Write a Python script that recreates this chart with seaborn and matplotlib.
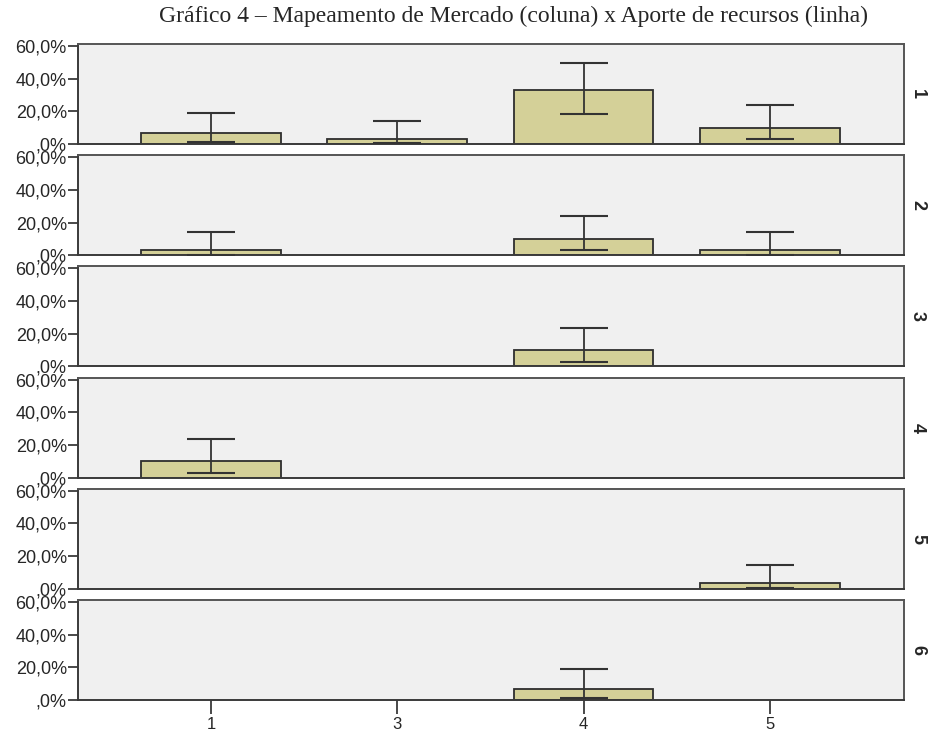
import matplotlib
matplotlib.use("Agg")
import matplotlib.pyplot as plt
import seaborn as sns
import pandas as pd

# Market mapping categories (columns) and funding categories (panel rows)
market = ["1", "3", "4", "5"]
funding = ["1", "2", "3", "4", "5", "6"]

# One entry per non-empty cell: funding row, market column, percentage and 95% interval
cell_row = ["1", "1", "1", "1", "2", "2", "2", "3", "4", "5", "6"]
cell_col = ["1", "3", "4", "5", "1", "4", "5", "4", "1", "5", "4"]
cell_pct = [6.7, 3.3, 33.3, 10.0, 3.3, 10.0, 3.3, 10.0, 10.0, 3.3, 6.7]
ci_low = [1.3, 0.4, 18.2, 2.9, 0.4, 2.9, 0.4, 2.9, 2.9, 0.4, 1.3]
ci_high = [19.2, 14.3, 49.8, 23.7, 14.3, 23.7, 14.3, 23.7, 23.7, 14.3, 19.2]

y_ticks = [0, 20, 40, 60]
y_tick_labels = [",0%", "20,0%", "40,0%", "60,0%"]

df = pd.DataFrame({"row": cell_row, "col": cell_col, "pct": cell_pct,
                   "lo": ci_low, "hi": ci_high})

sns.set_style("white")
plt.rcParams["font.family"] = ["Liberation Sans", "DejaVu Sans"]

bar_color = "#D4D098"
frame_color = "#3a3a3a"

fig, axes = plt.subplots(len(funding), 1, figsize=(9.35, 7.32), dpi=100, sharex=True)
fig.subplots_adjust(left=0.0834, right=0.9668, top=0.9399, bottom=0.0437, hspace=0.112)

for ax, r in zip(axes, funding):
    sub = df[df["row"] == r]
    ax.set_facecolor("#F0F0F0")
    sns.barplot(data=sub, x="col", y="pct", order=market, ax=ax,
                color=bar_color, saturation=1, width=0.75,
                edgecolor="#2e2e2e", linewidth=1.3, errorbar=None)
    pos = [market.index(c) for c in sub["col"]]
    ax.errorbar(pos, sub["pct"],
                yerr=[sub["pct"] - sub["lo"], sub["hi"] - sub["pct"]],
                fmt="none", ecolor="#333333", elinewidth=1.3,
                capsize=17, capthick=1.5, zorder=5)
    ax.set_ylim(0, 61.2)
    ax.set_xlim(-0.714, 3.72)
    ax.set_yticks(y_ticks)
    ax.set_yticklabels(y_tick_labels, fontsize=13)
    ax.set_xlabel("")
    ax.set_ylabel("")
    for s in ax.spines.values():
        s.set_visible(True)
        s.set_color("#555555")
        s.set_linewidth(1.4)
    ax.spines["left"].set_color(frame_color)
    ax.spines["bottom"].set_color(frame_color)
    ax.tick_params(axis="y", left=True, length=7, width=1.3, color=frame_color, pad=1)
    ax.tick_params(axis="x", bottom=False)
    ax.text(1.0165, 0.5, r, transform=ax.transAxes, rotation=270,
            fontsize=13, fontweight="bold", ha="center", va="center")

axes[-1].tick_params(axis="x", bottom=True, length=10, width=1.3,
                     color=frame_color, labelsize=12, pad=2)
axes[-1].set_xticks(range(len(market)))
axes[-1].set_xticklabels(market)

fig.text(0.549, 0.992, "Gráfico 4 – Mapeamento de Mercado (coluna) x Aporte de recursos (linha)",
         ha="center", va="top", fontsize=17, family=["Liberation Serif", "DejaVu Serif"])

fig.savefig("out.png", dpi=100, facecolor="white")
